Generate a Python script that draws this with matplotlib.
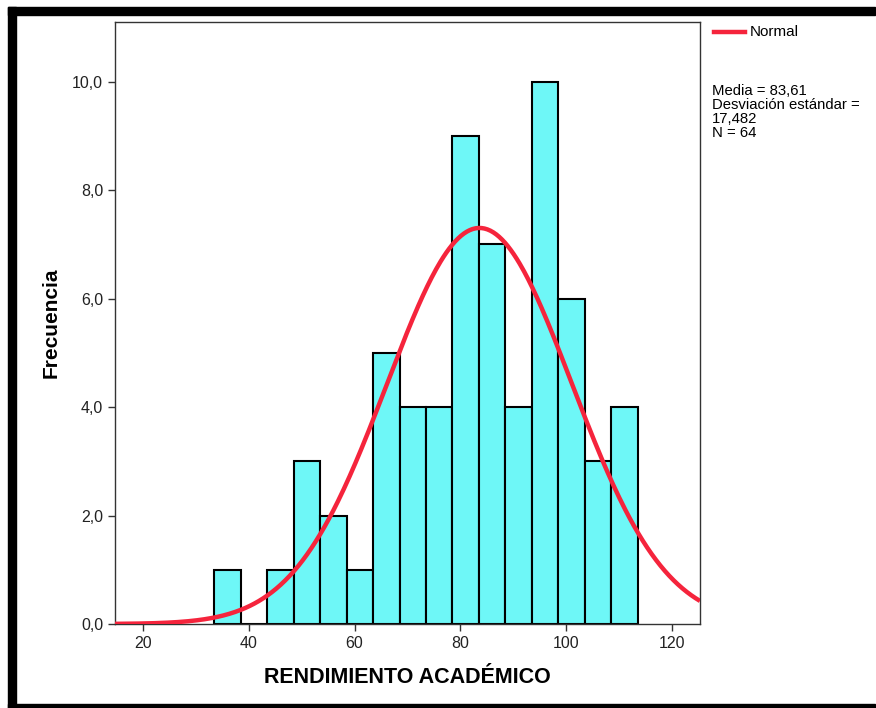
import numpy as np
import matplotlib

matplotlib.use("Agg")
import matplotlib.pyplot as plt
from matplotlib.patches import Rectangle

# histogram data (bin width 5)
bin_edges = [33.5, 38.5, 43.5, 48.5, 53.5, 58.5, 63.5, 68.5, 73.5, 78.5,
             83.5, 88.5, 93.5, 98.5, 103.5, 108.5, 113.5]
counts = [1, 0, 1, 3, 2, 1, 5, 4, 4, 9, 7, 4, 10, 6, 3, 4]
media = 83.61
desv = 17.482
n = 64
x_ticks = [20, 40, 60, 80, 100, 120]
y_ticks = [0, 2, 4, 6, 8, 10]

plt.rcParams["font.family"] = ["Liberation Sans", "DejaVu Sans"]

fig = plt.figure(figsize=(8.76, 7.08), dpi=100)
W, H = 876, 708
ax = fig.add_axes([115 / W, (H - 624) / H, 585 / W, 602 / H])

lefts = np.array(bin_edges[:-1])
widths = np.diff(bin_edges)
ax.bar(lefts, counts, width=widths, align="edge", color="#6ef7f7",
       edgecolor="black", linewidth=1.5, zorder=2)

binw = widths[0]
xs = np.linspace(14.7, 125.3, 400)
ys = n * binw * np.exp(-0.5 * ((xs - media) / desv) ** 2) / (desv * np.sqrt(2 * np.pi))
ax.plot(xs, ys, color="#f5243c", linewidth=3.2, zorder=3, solid_capstyle="butt")

ax.set_xlim(14.7, 125.3)
ax.set_ylim(0, 11.1)
ax.set_xticks(x_ticks)
ax.set_yticks(y_ticks)
ax.set_yticklabels([f"{v:.1f}".replace(".", ",") for v in y_ticks])
ax.tick_params(direction="out", length=5, width=1, labelsize=11.5, colors="#333333",
               labelcolor="#222222")
for s in ax.spines.values():
    s.set_color("#333333")
    s.set_linewidth(1.0)

ax.set_xlabel("RENDIMIENTO ACADÉMICO", fontsize=15.5, fontweight="bold", labelpad=12)
ax.set_ylabel("Frecuencia", fontsize=15, fontweight="bold", labelpad=8)

# legend and stats
fig.add_artist(plt.Line2D([714 / W, 745 / W], [1 - 32 / H, 1 - 32 / H],
                          color="#f5243c", linewidth=3.2))
fig.text(750 / W, 1 - 32 / H, "Normal", fontsize=11, va="center", ha="left")
fig.text(712 / W, 1 - 84 / H,
         f"Media = {media:.2f}\nDesviación estándar =\n{desv:.3f}\nN = {n}".replace(".", ","),
         fontsize=10.7, va="top", ha="left", linespacing=1.0)

# black frame (top, left, bottom)
fig.add_artist(Rectangle((8 / W, 1 - 15 / H), (875 - 8) / W, 8 / H,
                         transform=fig.transFigure, color="black"))
fig.add_artist(Rectangle((8 / W, 0), 8 / W, 1 - 7 / H,
                         transform=fig.transFigure, color="black"))
fig.add_artist(Rectangle((8 / W, 0), (875 - 8) / W, 4 / H,
                         transform=fig.transFigure, color="black"))

fig.savefig("out.png", dpi=100)
